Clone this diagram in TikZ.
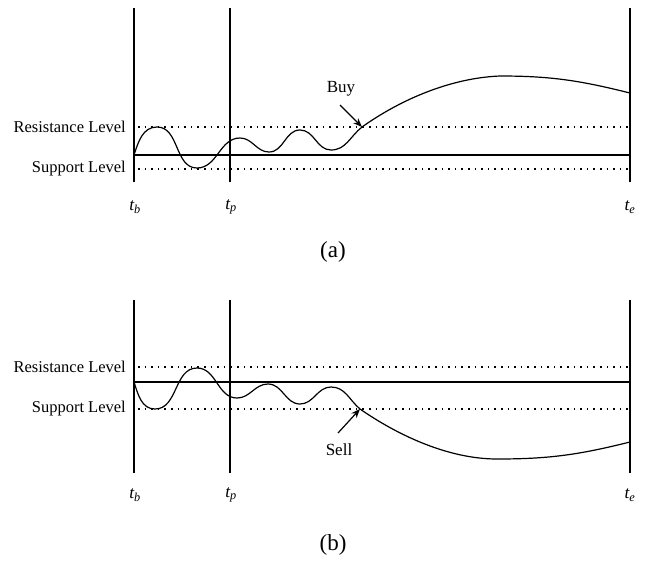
\documentclass[tikz,border=0pt]{standalone}
\usepackage{fontspec}
\setmainfont{Liberation Serif}
\usetikzlibrary{arrows.meta}
\begin{document}
\begin{tikzpicture}[x=1pt,y=1pt,
  vline/.style={line width=1.9pt},
  level/.style={line width=1.5pt},
  dotline/.style={line width=1.5pt,dash pattern=on 1.5pt off 5.1pt},
  curve/.style={line width=1.2pt},
  lbl/.style={font=\fontsize{16.5}{19}\selectfont,anchor=east,inner sep=0pt},
  tlbl/.style={font=\fontsize{17.5}{19}\selectfont\itshape,inner sep=0pt},
  captxt/.style={font=\fontsize{23}{26}\selectfont,inner sep=0pt},
  arr/.style={line width=1.2pt,-{Stealth[length=9pt,width=7pt]}}]
\useasboundingbox (0,0) rectangle (645,-560);
% ---------- panel (a) ----------
\coordinate (a1t) at (134,-8);   \coordinate (a1b) at (134,-182);
\coordinate (a2t) at (230,-8);   \coordinate (a2b) at (230,-182);
\coordinate (a3t) at (630,-8);   \coordinate (a3b) at (630,-182);
\draw[vline] (a1t) -- (a1b);
\draw[vline] (a2t) -- (a2b);
\draw[vline] (a3t) -- (a3b);
\coordinate (aRl) at (138,-127); \coordinate (aRr) at (628,-127);
\coordinate (aSl) at (138,-169); \coordinate (aSr) at (628,-169);
\coordinate (aMl) at (134,-155); \coordinate (aMr) at (630,-155);
\draw[dotline] (aRl) -- (aRr);
\draw[dotline] (aSl) -- (aSr);
\draw[level] (aMl) -- (aMr);
\node[lbl] (aRes) at (126,-127) {Resistance Level};
\node[lbl] (aSup) at (126,-169) {Support Level};
\draw[curve] (aMl) to[out=72,in=180] (157,-127) to[out=0,in=180] (197,-168)
  to[out=0,in=180] (240,-138) to[out=0,in=180] (269,-152)
  to[out=0,in=180] (300,-130) to[out=0,in=180] (331,-150)
  to[out=0,in=218] (362,-127) coordinate (buyhead)
  .. controls (400,-100) and (450,-78) .. (500,-76)
  to[out=0,in=166] (630,-93);
\node[font=\fontsize{17}{19}\selectfont,inner sep=0pt] (buy) at (341,-89) {Buy};
\coordinate (buytail) at (340,-105);
\draw[arr] (buytail) -- (buyhead);
\node[tlbl] (atb) at (135,-207) {t\textsubscript{b}};
\node[tlbl] (atp) at (231,-207) {t\textsubscript{p}};
\node[tlbl] (ate) at (630,-207) {t\textsubscript{e}};
\node[captxt] (capa) at (333,-252) {(a)};
% ---------- panel (b) ----------
\coordinate (b1t) at (134,-300);   \coordinate (b1b) at (134,-473);
\coordinate (b2t) at (230,-300);   \coordinate (b2b) at (230,-473);
\coordinate (b3t) at (630,-300);   \coordinate (b3b) at (630,-473);
\draw[vline] (b1t) -- (b1b);
\draw[vline] (b2t) -- (b2b);
\draw[vline] (b3t) -- (b3b);
\coordinate (bRl) at (138,-367); \coordinate (bRr) at (628,-367);
\coordinate (bSl) at (138,-409); \coordinate (bSr) at (628,-409);
\coordinate (bMl) at (134,-382); \coordinate (bMr) at (630,-382);
\draw[dotline] (bRl) -- (bRr);
\draw[dotline] (bSl) -- (bSr);
\draw[level] (bMl) -- (bMr);
\node[lbl] (bRes) at (126,-367) {Resistance Level};
\node[lbl] (bSup) at (126,-409) {Support Level};
\draw[curve] (bMl) to[out=-72,in=180] (155,-409) to[out=0,in=180] (197,-368)
  to[out=0,in=180] (237,-398) to[out=0,in=180] (268,-384)
  to[out=0,in=180] (300,-404) to[out=0,in=180] (331,-387)
  to[out=0,in=140] (360,-409) coordinate (sellhead)
  .. controls (396,-434) and (447,-459) .. (497,-459)
  to[out=0,in=194] (630,-442);
\node[font=\fontsize{17}{19}\selectfont,inner sep=0pt] (sell) at (339,-450) {Sell};
\coordinate (selltail) at (338,-433);
\draw[arr] (selltail) -- (sellhead);
\node[tlbl] (btb) at (135,-495) {t\textsubscript{b}};
\node[tlbl] (btp) at (231,-495) {t\textsubscript{p}};
\node[tlbl] (bte) at (630,-495) {t\textsubscript{e}};
\node[captxt] (capb) at (333,-545) {(b)};
\end{tikzpicture}
\end{document}
